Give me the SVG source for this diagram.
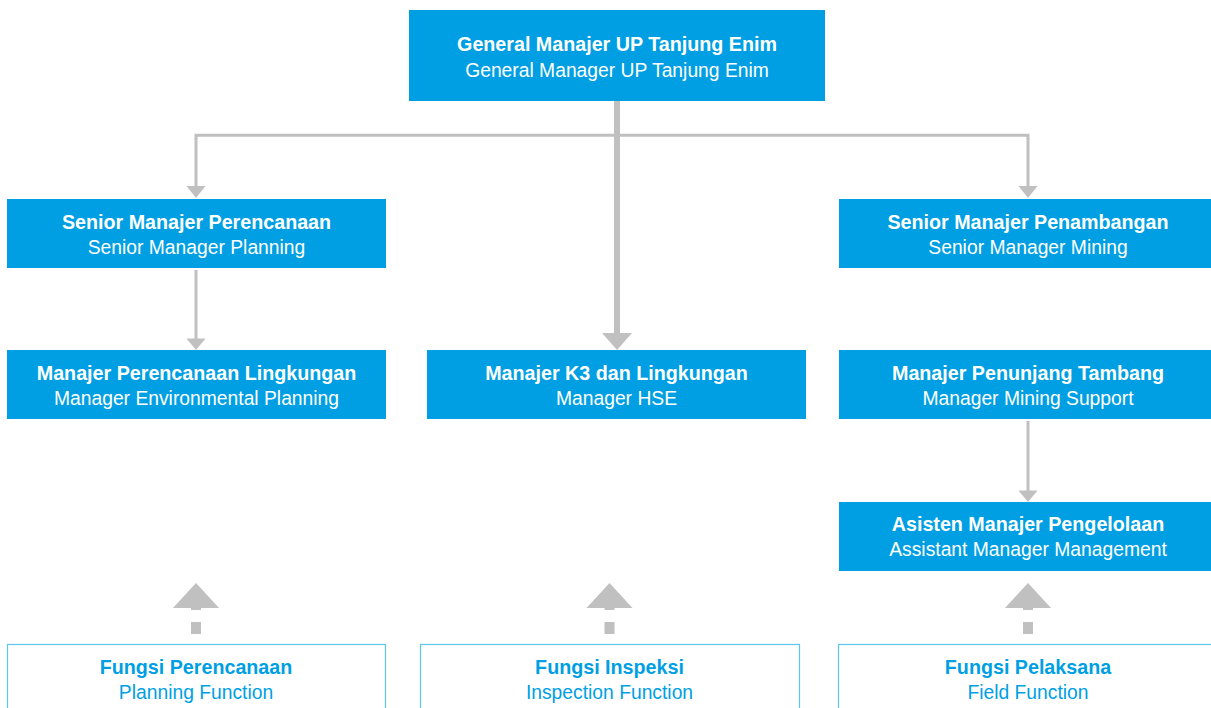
<svg xmlns="http://www.w3.org/2000/svg" width="1211" height="708" viewBox="0 0 1211 708">
<style>
.box{fill:#009FE3}
.obox{fill:#fff;stroke:#5CC6F1;stroke-width:1.2}
.t{font-family:"Liberation Sans",Arial,sans-serif;font-size:19.3px;text-anchor:middle}
.b{font-weight:bold;font-size:19.7px}
.w{fill:#fff}
.bl{fill:#009FE3}
.ln{stroke:#C0C0C0;fill:none}
.ah{fill:#C0C0C0}
</style>
<rect width="1211" height="708" fill="#fff"/>
<g id="connectors">
  <path class="ln" stroke-width="3" d="M196 188 V135.3 H1028 V188"/>
  <polygon class="ah" points="186.5,186 205.5,186 196,198"/>
  <polygon class="ah" points="1018.5,186 1037.5,186 1028,198"/>
  <path class="ln" stroke-width="6" d="M617 101 V335"/>
  <polygon class="ah" points="602,333 632,333 617,350"/>
  <path class="ln" stroke-width="3" d="M196 270 V340"/>
  <polygon class="ah" points="186.5,338.5 205.5,338.5 196,350"/>
  <path class="ln" stroke-width="3" d="M1028 421 V492"/>
  <polygon class="ah" points="1018.5,490.5 1037.5,490.5 1028,502"/>
  <g class="ah">
    <polygon points="173,608 219,608 196,583"/>
    <rect x="191" y="607" width="10" height="3"/>
    <rect x="191" y="622" width="10" height="12"/>
    <polygon points="586.5,608 632.5,608 609.5,583"/>
    <rect x="604.5" y="607" width="10" height="3"/>
    <rect x="604.5" y="622" width="10" height="12"/>
    <polygon points="1005,608 1051,608 1028,583"/>
    <rect x="1023" y="607" width="10" height="3"/>
    <rect x="1023" y="622" width="10" height="12"/>
  </g>
</g>
<g id="gm">
  <rect class="box" x="409" y="10" width="416" height="91"/>
  <text class="t b w" x="617" y="51">General Manajer UP Tanjung Enim</text>
  <text class="t w" x="617" y="77">General Manager UP Tanjung Enim</text>
</g>
<g id="sm-planning">
  <rect class="box" x="7" y="199" width="379" height="69"/>
  <text class="t b w" x="196.5" y="229">Senior Manajer Perencanaan</text>
  <text class="t w" x="196.5" y="254">Senior Manager Planning</text>
</g>
<g id="sm-mining">
  <rect class="box" x="839" y="199" width="379" height="69"/>
  <text class="t b w" x="1028" y="229">Senior Manajer Penambangan</text>
  <text class="t w" x="1028" y="254">Senior Manager Mining</text>
</g>
<g id="m-env">
  <rect class="box" x="7" y="350" width="379" height="69"/>
  <text class="t b w" x="196.5" y="380">Manajer Perencanaan Lingkungan</text>
  <text class="t w" x="196.5" y="405">Manager Environmental Planning</text>
</g>
<g id="m-hse">
  <rect class="box" x="427" y="350" width="379" height="69"/>
  <text class="t b w" x="616.5" y="380">Manajer K3 dan Lingkungan</text>
  <text class="t w" x="616.5" y="405">Manager HSE</text>
</g>
<g id="m-support">
  <rect class="box" x="839" y="350" width="379" height="69"/>
  <text class="t b w" x="1028" y="380">Manajer Penunjang Tambang</text>
  <text class="t w" x="1028" y="405">Manager Mining Support</text>
</g>
<g id="am-mgmt">
  <rect class="box" x="839" y="502" width="379" height="69"/>
  <text class="t b w" x="1028" y="531">Asisten Manajer Pengelolaan</text>
  <text class="t w" x="1028" y="556">Assistant Manager Management</text>
</g>
<g id="f-planning">
  <rect class="obox" x="7.5" y="644.5" width="378" height="80"/>
  <text class="t b bl" x="196" y="674">Fungsi Perencanaan</text>
  <text class="t bl" x="196" y="699">Planning Function</text>
</g>
<g id="f-inspection">
  <rect class="obox" x="420.5" y="644.5" width="379" height="80"/>
  <text class="t b bl" x="609.5" y="674">Fungsi Inspeksi</text>
  <text class="t bl" x="609.5" y="699">Inspection Function</text>
</g>
<g id="f-field">
  <rect class="obox" x="838.5" y="644.5" width="379" height="80"/>
  <text class="t b bl" x="1028" y="674">Fungsi Pelaksana</text>
  <text class="t bl" x="1028" y="699">Field Function</text>
</g>
</svg>
